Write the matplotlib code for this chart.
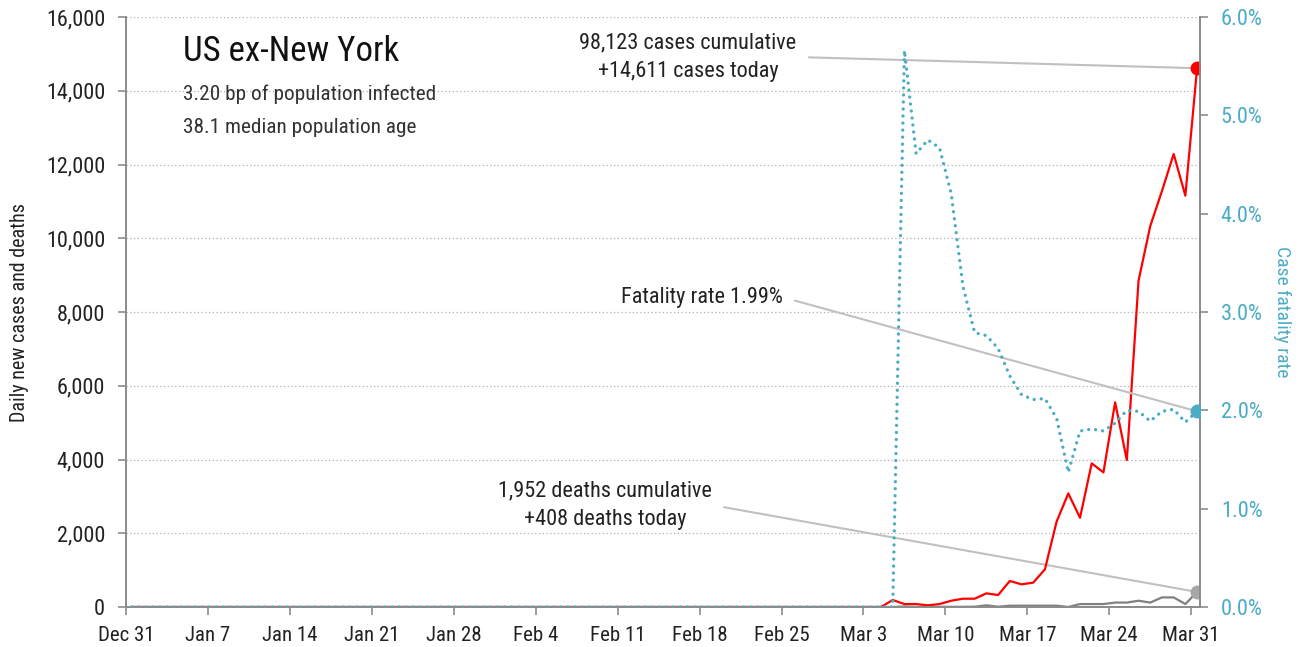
import numpy as np
import pandas as pd
import matplotlib
matplotlib.use("Agg")
import matplotlib.pyplot as plt
from matplotlib.ticker import FuncFormatter, MultipleLocator

plt.rcParams['font.family'] = ['Roboto Condensed', 'DejaVu Sans']

#==============
# 1. DATA
#==============
start = pd.Timestamp("2019-12-31")
end = pd.Timestamp("2020-03-31")
dates = pd.date_range(start, end, freq="D")
n_before_march = 61  # Dec 31 .. Feb 29, all zero

# daily values for Mar 1 .. Mar 31
cases_march = [0, 0, 0, 0, 190, 80, 80, 45, 80, 170, 225, 225, 370, 325, 705,
               615, 660, 1020, 2315, 3080, 2420, 3895, 3650, 5550, 3985, 8850,
               10330, 11280, 12285, 11155, 14611]
deaths_march = [0, 0, 0, 0, 0, 15, 2, 5, 5, 5, 5, 8, 45, 8, 35,
                35, 35, 35, 35, 0, 80, 80, 80, 120, 120, 170,
                120, 260, 260, 80, 408]
fatality_march = [0, 0, 0, 0, 0, 5.66, 4.61, 4.75, 4.67, 4.20, 3.26, 2.79, 2.76,
                  2.63, 2.35, 2.16, 2.11, 2.12, 1.92, 1.37, 1.79, 1.81, 1.79,
                  1.87, 2.00, 1.99, 1.89, 1.99, 2.01, 1.88, 1.99]

cases = np.concatenate([np.zeros(n_before_march), cases_march])
deaths = np.concatenate([np.zeros(n_before_march), deaths_march])
fatality = np.concatenate([np.zeros(n_before_march), fatality_march])

title = "US ex-New York"
subtitle_lines = ["3.20 bp of population infected", "38.1 median population age"]
cases_note = "98,123 cases cumulative\n+14,611 cases today"
deaths_note = "1,952 deaths cumulative\n+408 deaths today"
fatality_note = "Fatality rate 1.99%"

#==============
# 2. STYLE
#==============
RED = "#ff0000"
GRAY_LINE = "#808080"
GRAY_DOT = "#a6a6a6"
CYAN = "#4bacc6"
SPINE = "#8c8c8c"
LEADER = "#c0c0c0"
TXT = "#222222"

day = np.arange(len(dates)) + 0.5  # values plotted at mid-day
tick_days = np.arange(0, len(dates), 7)
tick_labels = [d.strftime("%b ") + str(d.day) for d in dates[tick_days]]

#==============
# 3. PLOT
#==============
fig = plt.figure(figsize=(13.02, 6.47), dpi=100)
ax = fig.add_axes([126 / 1302, 1 - 607 / 647, 1074 / 1302, 590 / 647])
ax2 = ax.twinx()

ax.plot(day, cases, color=RED, lw=1.6, zorder=3)
ax.plot(day, deaths, color=GRAY_LINE, lw=1.6, zorder=2)
ax.plot(day[-1], cases[-1], "o", color=RED, ms=9, zorder=4)
ax.plot(day[-1], deaths[-1], "o", color=GRAY_DOT, ms=9, zorder=4)

ax2.plot(day, fatality, color=CYAN, lw=2.4, linestyle=(0, (0.01, 2.1)),
         dash_capstyle="round", zorder=3)
ax2.plot(day[-1], fatality[-1], "o", color=CYAN, ms=9, zorder=4)

ax.set_xlim(0, len(dates) - 0.25)
ax.set_ylim(0, 16000)
ax2.set_ylim(0, 6)

ax.set_xticks(tick_days)
ax.set_xticklabels(tick_labels)
ax.yaxis.set_major_locator(MultipleLocator(2000))
ax.yaxis.set_major_formatter(FuncFormatter(lambda v, p: f"{v:,.0f}"))
ax2.yaxis.set_major_locator(MultipleLocator(1))
ax2.yaxis.set_major_formatter(FuncFormatter(lambda v, p: f"{v:.1f}%"))

ax.grid(axis="y", color="#b0b0b0", linestyle=(0, (1, 2)), lw=0.9)
ax.set_axisbelow(True)

for a in (ax, ax2):
    a.spines["top"].set_visible(False)
    for s in ("left", "right", "bottom"):
        a.spines[s].set_color(SPINE)
        a.spines[s].set_linewidth(1.3)
ax.tick_params(axis="both", colors=SPINE, labelcolor=TXT, labelsize=16,
               length=6, width=1.2)
ax.tick_params(axis="x", pad=8, labelsize=15)
ax.tick_params(axis="y", pad=9)
ax2.tick_params(axis="y", colors=SPINE, labelcolor=CYAN, labelsize=16,
                length=6, width=1.2, pad=9)

ax.set_ylabel("Daily new cases and deaths", fontsize=14.5, color=TXT, labelpad=12)
ax2.set_ylabel("Case fatality rate", fontsize=14, color=CYAN, rotation=270,
               labelpad=20)

# title block
ax.text(0.053, 0.941, title, transform=ax.transAxes, fontsize=25,
        color="#111111", va="center", ha="left")
ax.text(0.053, 0.8695, subtitle_lines[0], transform=ax.transAxes, fontsize=15.3,
        color="#333333", va="center", ha="left")
ax.text(0.053, 0.812, subtitle_lines[1], transform=ax.transAxes, fontsize=15.3,
        color="#333333", va="center", ha="left")

# annotations with leader lines
lead = dict(arrowstyle="-", color=LEADER, lw=1.5, shrinkA=7, shrinkB=0,
            relpos=(1, 0.5))
ax.annotate(cases_note, xy=(day[-1], cases[-1]), xytext=(48.0, 14915),
            ha="center", va="center", fontsize=16, color=TXT,
            arrowprops=lead, zorder=1, linespacing=1.45)
ax.annotate(deaths_note, xy=(day[-1], deaths[-1]), xytext=(40.9, 2766),
            ha="center", va="center", fontsize=16, color=TXT,
            arrowprops=lead, zorder=1, linespacing=1.45)
ax2.annotate(fatality_note, xy=(day[-1], fatality[-1]), xytext=(56.1, 3.15),
             ha="right", va="center", fontsize=16, color=TXT,
             arrowprops=lead, zorder=1)

fig.savefig("out.png", dpi=100)
